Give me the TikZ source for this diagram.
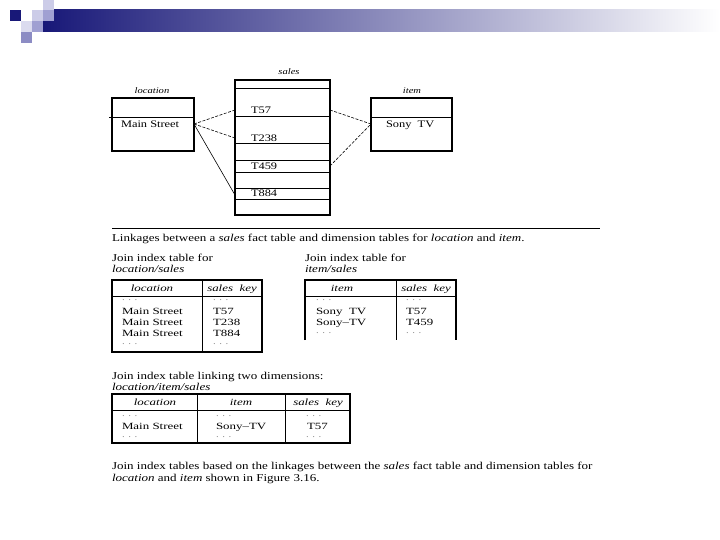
\documentclass[tikz,border=0pt]{standalone}
\usepackage{fontspec}
\setmainfont{Liberation Serif}[FakeStretch=1.24]
\newfontfamily\tabfont{Liberation Serif}[FakeStretch=1.36,Ligatures=TeX]
\definecolor{navyA}{RGB}{24,24,120}
\definecolor{midA}{RGB}{160,160,188}
\definecolor{lavA}{RGB}{204,204,232}
\definecolor{lavB}{RGB}{160,160,210}
\definecolor{lavC}{RGB}{140,140,196}
\definecolor{dotc}{RGB}{120,120,120}
\begin{document}
\begin{tikzpicture}[x=1pt,y=-1pt,
  every node/.style={inner sep=0pt, outer sep=0pt},
  txt/.style={anchor=west, text height=7pt, text depth=0pt, font=\fontsize{10}{11}\selectfont},
  tabtxt/.style={anchor=west, text height=6.6pt, text depth=0pt, font=\tabfont\fontsize{9.5}{10}\selectfont},
  captxt/.style={anchor=west, text height=7.4pt, text depth=0pt, font=\fontsize{10.5}{12}\selectfont},
  hdr/.style={text height=6.6pt, text depth=0pt, font=\tabfont\fontsize{9.5}{10}\selectfont\itshape},
  lbl/.style={text height=6pt, text depth=0pt, font=\fontsize{8.5}{10}\selectfont\itshape},
  dotstxt/.style={anchor=west, text=dotc, font=\tabfont\fontsize{8}{9}\selectfont},
  boxA/.style={draw, line width=1.3pt, anchor=north west},
  boxS/.style={draw, line width=1.7pt, anchor=north west},
  ruleln/.style={line width=0.7pt},
  framebox/.style={line width=1.2pt},
  linkln/.style={line width=0.6pt, dash pattern=on 3pt off 1.5pt},
  linksolid/.style={line width=0.6pt}]
\useasboundingbox (0,0) rectangle (720,540);
% header decoration
\shade[left color=navyA, middle color=midA, right color=white] (43,10) rectangle (720,32);
\fill[navyA] (10,10) rectangle (21,21);
\fill[lavA] (32,10) rectangle (43,21);
\fill[lavA] (43,0) rectangle (54,10);
\fill[lavB] (43,10) rectangle (54,21);
\fill[lavA!70!white] (21,21) rectangle (32,32);
\fill[lavB] (32,21) rectangle (43,32);
\fill[lavC] (21,32) rectangle (32,43);
% top diagram
\node[lbl] (lsales) at (289,72) {sales};
\node[lbl] (lloc) at (152,91) {location};
\node[lbl] (litem) at (412,91) {item};
\node[boxS, minimum width=95, minimum height=135] (sales) at (235,80) {};
\foreach \yy in {88,116,143,160,172,188,199}
  \draw[ruleln] (sales.west |- 0,\yy) -- (sales.east |- 0,\yy);
\node[boxA, minimum width=82, minimum height=53] (loc) at (112,98) {};
\draw[ruleln] (109,117) -- (loc.east |- 0,117);
\node[boxA, minimum width=81, minimum height=53] (item) at (371,98) {};
\draw[ruleln] (item.west |- 0,117) -- (item.east |- 0,117);
\node[txt] (ms) at (121,124) {Main Street};
\node[txt] (sony) at (386,124) {Sony\ \ TV};
\node[txt] (t57) at (251,110) {T57};
\node[txt] (t238) at (251,138) {T238};
\node[txt] (t459) at (251,166) {T459};
\node[txt] (t884) at (251,193) {T884};
\draw[linkln] (loc.east |- ms) -- (sales.west |- t57);
\draw[linkln] (loc.east |- ms) -- (sales.west |- t238);
\draw[linksolid] (loc.east |- ms) -- ([yshift=-2pt]sales.west |- t884);
\draw[linkln] (sales.east |- t57) -- (item.west |- sony);
\draw[linkln] (sales.east |- t459) -- (item.west |- sony);
\draw[ruleln] (112,228) -- (600,228);
\node[captxt] (cap1) at (112,238) {Linkages between a \textit{sales} fact table and dimension tables for \textit{location} and \textit{item}.};
% table 1
\node[captxt] (j1a) at (112,258) {Join index table for};
\node[captxt] (j1b) at (112,269) {\textit{location/sales}};
\draw[framebox] (112,280) rectangle (262,352);
\draw[ruleln] (112,296) -- (262,296);
\draw[ruleln] (202,280) -- (202,352);
\node[hdr] (h1a) at (152,288) {location};
\node[hdr] (h1b) at (232,288) {sales\ \ key};
\node[dotstxt] (d1a) at (122,300) {. . .};
\node[dotstxt] (d1b) at (213,300) {. . .};
\node[tabtxt] (r1a) at (122,311) {Main Street};
\node[tabtxt] (r1b) at (122,322) {Main Street};
\node[tabtxt] (r1c) at (122,333) {Main Street};
\node[tabtxt] (k1a) at (213,311) {T57};
\node[tabtxt] (k1b) at (213,322) {T238};
\node[tabtxt] (k1c) at (213,333) {T884};
\node[dotstxt] (d1c) at (122,344) {. . .};
\node[dotstxt] (d1d) at (213,344) {. . .};
% table 2
\node[captxt] (j2a) at (305,258) {Join index table for};
\node[captxt] (j2b) at (305,269) {\textit{item/sales}};
\draw[framebox] (305,340) -- (305,280) -- (456,280) -- (456,340);
\draw[ruleln] (305,296) -- (456,296);
\draw[ruleln] (396,280) -- (396,340);
\node[hdr] (h2a) at (342,288) {item};
\node[hdr] (h2b) at (426,288) {sales\ \ key};
\node[dotstxt] (d2a) at (316,300) {. . .};
\node[dotstxt] (d2b) at (406,300) {. . .};
\node[tabtxt] (r2a) at (316,311) {Sony\ \ TV};
\node[tabtxt] (r2b) at (316,322) {Sony\textendash TV};
\node[tabtxt] (k2a) at (406,311) {T57};
\node[tabtxt] (k2b) at (406,322) {T459};
\node[dotstxt] (d2c) at (316,333) {. . .};
\node[dotstxt] (d2d) at (406,333) {. . .};
% table 3
\node[captxt] (j3a) at (112,376) {Join index table linking two dimensions:};
\node[captxt] (j3b) at (112,387) {\textit{location/item/sales}};
\draw[framebox] (112,394) rectangle (350,443);
\draw[ruleln] (112,410) -- (350,410);
\draw[ruleln] (197,394) -- (197,443);
\draw[ruleln] (285,394) -- (285,443);
\node[hdr] (h3a) at (155,402) {location};
\node[hdr] (h3b) at (241,402) {item};
\node[hdr] (h3c) at (318,402) {sales\ \ key};
\node[dotstxt] (d3a) at (122,416) {. . .};
\node[dotstxt] (d3b) at (216,416) {. . .};
\node[dotstxt] (d3c) at (306,416) {. . .};
\node[tabtxt] (r3a) at (122,426) {Main Street};
\node[tabtxt] (r3b) at (216,426) {Sony\textendash TV};
\node[tabtxt] (r3c) at (307,426) {T57};
\node[dotstxt] (d3d) at (122,437) {. . .};
\node[dotstxt] (d3e) at (216,437) {. . .};
\node[dotstxt] (d3f) at (306,437) {. . .};
% caption 2
\node[captxt] (cap2a) at (112,466) {Join index tables based on the linkages between the \textit{sales} fact table and dimension tables for};
\node[captxt] (cap2b) at (112,478) {\textit{location} and \textit{item} shown in Figure 3.16.};
\end{tikzpicture}
\end{document}
